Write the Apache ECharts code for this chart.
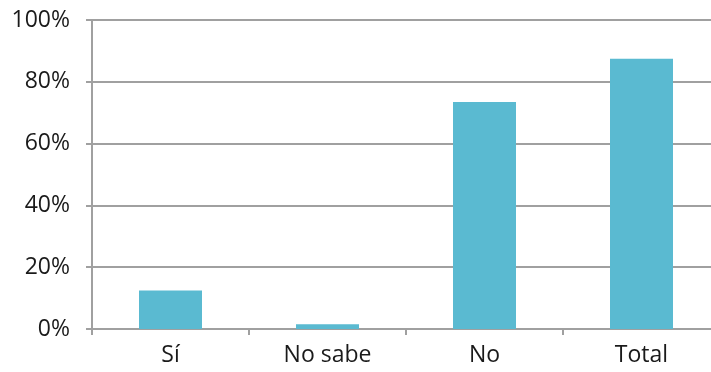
<!DOCTYPE html>
<html>
<head>
<meta charset="utf-8">
<script src="https://cdn.jsdelivr.net/npm/echarts@6/dist/echarts.min.js"></script>
<style>
  html, body { margin: 0; padding: 0; background: #fff; overflow: hidden; }
  #chart { width: 720px; height: 372px; }
</style>
</head>
<body>
<div id="chart"></div>
<script>
var categorias = ['Sí', 'No sabe', 'No', 'Total'];
var valores = [12.5, 1.5, 73.5, 87.5];
var ticksY = [0, 20, 40, 60, 80, 100];

var chart = echarts.init(document.getElementById('chart'), null, { renderer: 'canvas' });

var option = {
    animation: false,
    grid: {
        left: 92,
        right: 0,
        top: 20,
        bottom: 43
    },
    xAxis: {
        type: 'category',
        data: categorias,
        axisLine: { lineStyle: { color: '#a0a0a0', width: 2 } },
        axisTick: { show: true, length: 6, lineStyle: { color: '#a0a0a0', width: 2 } },
        axisLabel: {
            margin: 15,
            color: '#1a1a1a',
            fontSize: 23,
            fontFamily: 'Open Sans'
        }
    },
    yAxis: {
        type: 'value',
        min: ticksY[0],
        max: ticksY[ticksY.length - 1],
        interval: 20,
        axisLine: { show: true, lineStyle: { color: '#a0a0a0', width: 2 } },
        axisTick: { show: true, length: 6, lineStyle: { color: '#a0a0a0', width: 2 } },
        splitLine: { lineStyle: { color: '#a0a0a0', width: 2 } },
        axisLabel: {
            margin: 22,
            color: '#1a1a1a',
            fontSize: 23,
            fontFamily: 'Open Sans',
            formatter: '{value}%'
        }
    },
    series: [{
        type: 'bar',
        data: valores,
        barWidth: 63,
        itemStyle: { color: '#5abad1' }
    }]
};

chart.setOption(option);
</script>
</body>
</html>
